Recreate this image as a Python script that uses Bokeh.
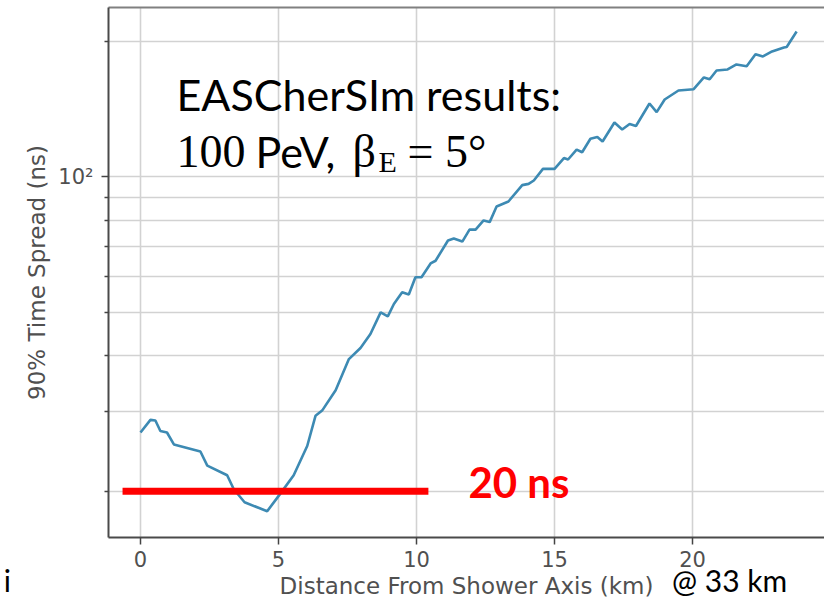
from bokeh.plotting import figure
from bokeh.models import FixedTicker, CustomJSTickFormatter, Label, LinearAxis
from bokeh.embed import file_html
from bokeh.resources import INLINE

# ---- data ----
distance_km = [0.0, 0.36, 0.54, 0.72, 0.96, 1.21, 2.17, 2.42, 3.14, 3.38, 3.77, 4.59,
               5.04, 5.55, 6.04, 6.34, 6.58, 7.07, 7.55, 7.97, 8.33, 8.70, 8.96, 9.18,
               9.48, 9.72, 9.96, 10.18, 10.51, 10.69, 11.14, 11.35, 11.66, 11.92, 12.14,
               12.43, 12.65, 12.90, 13.33, 13.83, 14.06, 14.25, 14.58, 15.00, 15.34,
               15.49, 15.80, 16.00, 16.30, 16.55, 16.74, 17.17, 17.45, 17.72, 17.95,
               18.44, 18.70, 18.99, 19.49, 20.04, 20.41, 20.62, 20.87, 21.27, 21.59,
               21.96, 22.28, 22.55, 22.88, 23.31, 23.41, 23.77]
time_spread_ns = [27.0, 28.8, 28.7, 27.2, 27.0, 25.4, 24.5, 22.8, 21.7, 20.2, 18.9, 18.05,
                  19.65, 21.7, 25.2, 29.4, 30.2, 33.5, 39.3, 41.6, 44.7, 49.9, 48.9, 52.1,
                  55.3, 54.7, 59.75, 59.75, 64.1, 65.0, 72.1, 72.8, 71.7, 76.2, 76.2,
                  79.9, 79.2, 85.8, 88.0, 95.7, 96.3, 98.0, 104.0, 104.0, 109.9,
                  109.1, 114.8, 113.2, 121.3, 122.4, 119.6, 131.8, 127.2, 130.8, 129.5,
                  145.3, 139.0, 148.3, 155.3, 156.3, 166.0, 164.5, 172.0, 172.9, 177.4,
                  175.8, 187.0, 184.8, 189.6, 193.5, 194.0, 210.0]

threshold_ns = [20, 20]
threshold_x = [-0.65, 10.43]

x_ticks = [0, 5, 10, 15, 20]
y_major_ticks = [100]
y_minor_ticks = [20, 30, 40, 50, 60, 70, 80, 90, 200]
x_min, x_max = -1.159, 24.78
y_min, y_max = 15.78, 237.4

note_x = [x_min, 21.34]   # stray "i" at the slide edge, "@ 33 km" centre (km)

p = figure(width=824, height=601, x_range=(x_min, x_max), y_range=(y_min, y_max),
           y_axis_type="log", output_backend="svg", toolbar_location=None,
           min_border_left=108, min_border_right=0, min_border_top=7, min_border_bottom=64)
p.outline_line_color = None
p.background_fill_color = "white"
p.border_fill_color = "white"

# grid
grid_col = "#d2d2d2"
p.xgrid.grid_line_color = grid_col
p.xgrid.grid_line_width = 1.6
p.ygrid.grid_line_color = grid_col
p.ygrid.grid_line_width = 1.6
p.ygrid.minor_grid_line_color = grid_col
p.ygrid.minor_grid_line_width = 1.6

# x axis
p.xaxis.ticker = FixedTicker(ticks=x_ticks, minor_ticks=[])
p.xaxis.axis_label = "Distance From Shower Axis (km)"
p.xaxis.axis_label_text_font = "DejaVu Sans"
p.xaxis.axis_label_text_font_size = "23px"
p.xaxis.axis_label_text_font_style = "normal"
p.xaxis.axis_label_text_color = "#505050"
p.xaxis.axis_label_standoff = 3
p.xaxis.major_label_text_font = "DejaVu Sans"
p.xaxis.major_label_text_font_size = "21px"
p.xaxis.major_label_text_color = "#505050"
p.xaxis.major_label_standoff = 6
p.xaxis.major_tick_out = 7
p.xaxis.major_tick_in = 0
p.xaxis.major_tick_line_color = "#444444"
p.xaxis.major_tick_line_width = 1.5
p.xaxis.axis_line_color = "#4a4a4a"
p.xaxis.axis_line_width = 2

# y axis
p.yaxis.ticker = FixedTicker(ticks=y_major_ticks, minor_ticks=y_minor_ticks)
p.yaxis.formatter = CustomJSTickFormatter(code="return tick == 100 ? '10\u00b2' : '';")
p.yaxis.axis_label = "90% Time Spread (ns)"
p.yaxis.axis_label_text_font = "DejaVu Sans"
p.yaxis.axis_label_text_font_size = "23px"
p.yaxis.axis_label_text_font_style = "normal"
p.yaxis.axis_label_text_color = "#505050"
p.yaxis.axis_label_standoff = 5
p.yaxis.major_label_text_font = "DejaVu Sans"
p.yaxis.major_label_text_font_size = "21px"
p.yaxis.major_label_text_color = "#505050"
p.yaxis.major_label_standoff = 8
p.yaxis.major_tick_out = 7
p.yaxis.major_tick_in = 0
p.yaxis.minor_tick_out = 4
p.yaxis.minor_tick_in = 0
p.yaxis.major_tick_line_color = "#444444"
p.yaxis.minor_tick_line_color = "#444444"
p.yaxis.major_tick_line_width = 1.5
p.yaxis.minor_tick_line_width = 1.5
p.yaxis.axis_line_color = "#4a4a4a"
p.yaxis.axis_line_width = 2

# top spine
top = LinearAxis(ticker=FixedTicker(ticks=[], minor_ticks=[]), major_tick_out=0, major_tick_in=0,
                 major_label_standoff=0, major_label_text_font_size="0px",
                 axis_line_color="#808080", axis_line_width=2)
p.add_layout(top, "above")

# texts below the frame: labels of an extra bottom axis pulled up with negative standoff
pad = "\u2003" * 8 + "\u2002" + "\u2009\u2009"
note_axis = LinearAxis(ticker=FixedTicker(ticks=note_x, minor_ticks=[]),
                       formatter=CustomJSTickFormatter(
                           code="return tick < 0 ? 'i" + pad + "' : '@ 33 km';"),
                       axis_line_color=None, major_tick_line_color=None,
                       major_tick_out=0, major_tick_in=0, major_label_standoff=-40,
                       major_label_text_font="Lato", major_label_text_font_size="30px",
                       major_label_text_color="black")
p.add_layout(note_axis, "below")

# data line
p.line(distance_km, time_spread_ns, line_color="#3d8ab3", line_width=2.6)

# 20 ns threshold bar
p.line(threshold_x, threshold_ns, line_color="#ff0000", line_width=7, line_cap="butt")

dy = 16
p.add_layout(Label(x=11.88, y=threshold_ns[0], text="20 ns", text_font="Lato",
                   text_font_style="bold", text_font_size="42px", text_color="#ff0000",
                   text_baseline="alphabetic", y_offset=-6.5 + dy))

# annotation text
ax, ay = 1.304, 140.2
p.add_layout(Label(x=ax, y=ay, text="EASCherSIm results:", text_font="Lato",
                   text_font_size="43px", text_color="black", text_baseline="alphabetic",
                   y_offset=dy))
p.add_layout(Label(x=ax, y=ay, text="100", text_font="Liberation Serif",
                   text_font_size="46px", text_color="black", text_baseline="alphabetic",
                   y_offset=-57 + dy))
p.add_layout(Label(x=ax, y=ay, text="PeV,", text_font="Lato",
                   text_font_size="43px", text_color="black", text_baseline="alphabetic",
                   x_offset=79, y_offset=-57 + dy))
p.add_layout(Label(x=ax, y=ay, text="\u03b2", text_font="Liberation Serif",
                   text_font_size="46px", text_color="black", text_baseline="alphabetic",
                   x_offset=176, y_offset=-57 + dy))
p.add_layout(Label(x=ax, y=ay, text="E", text_font="Liberation Serif",
                   text_font_size="30px", text_color="black", text_baseline="alphabetic",
                   x_offset=202, y_offset=-67 + dy))
p.add_layout(Label(x=ax, y=ay, text="= 5\u00b0", text_font="Liberation Serif",
                   text_font_size="46px", text_color="black", text_baseline="alphabetic",
                   x_offset=231, y_offset=-57 + dy))

open("out.html", "w").write(file_html(p, INLINE))
